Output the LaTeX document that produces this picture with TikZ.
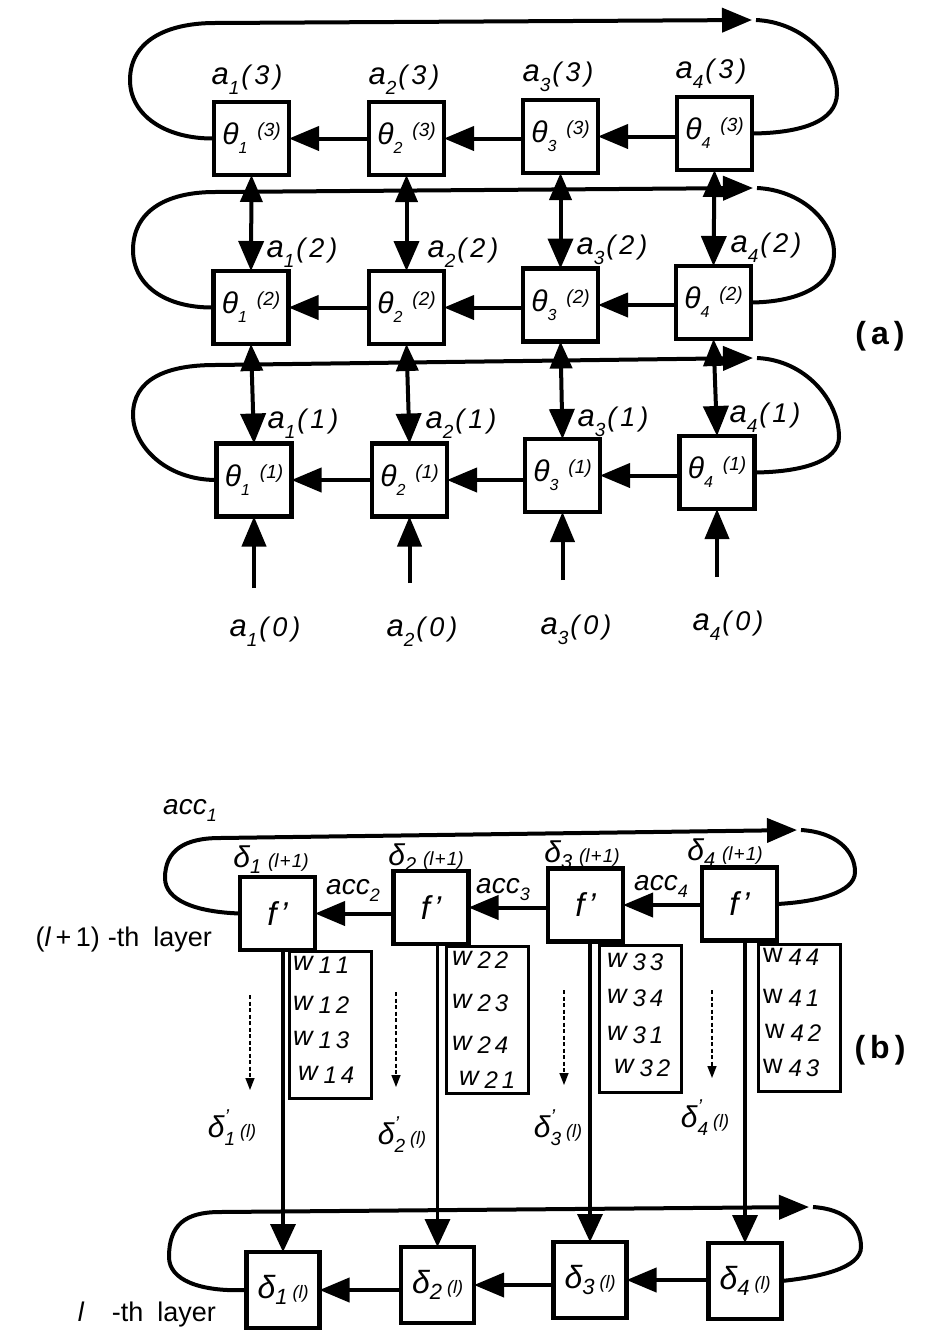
\documentclass[tikz,border=0pt]{standalone}
\usepackage{fontspec}
\setmainfont{Liberation Sans}
\usetikzlibrary{arrows.meta}
\newcommand{\fs}[1]{\fontsize{#1}{#1}\selectfont}
\newcommand{\aL}[2]{{\fs{31}\itshape a}\raisebox{-10pt}{\fs{19}\itshape #1}{\fs{27}\itshape\hspace{2pt}(\hspace{4pt}#2\hspace{4pt})}}
\newcommand{\thL}[2]{{\fs{30}\itshape θ}\raisebox{-9pt}{\fs{16}\itshape #1}\hspace{10pt}\raisebox{8pt}{\fs{19}\itshape(#2)}}
\newcommand{\dL}[2]{{\fs{32}\itshape δ}\raisebox{-6pt}{\fs{22}\itshape #1}\hspace{5pt}{\fs{18}\itshape(#2)}}
\newcommand{\dLL}[1]{{\fs{30}\itshape δ}\raisebox{-6pt}{\fs{20}\itshape #1}\hspace{7pt}{\fs{19}\itshape(l\hspace{1pt}+\hspace{1pt}1)}}
\newcommand{\dpL}[1]{{\fs{30}\itshape δ}\rlap{\raisebox{14pt}{\fs{20}\itshape '}}\raisebox{-8pt}{\fs{19}\itshape #1}\hspace{5pt}{\fs{18}\itshape(l)}}
\newcommand{\accL}[1]{{\fs{28}\itshape acc}\raisebox{-7pt}{\fs{18}\itshape #1}}
\newcommand{\wL}[2]{{\fs{27}\itshape w}\hspace{6pt}\raisebox{-3pt}{\fs{24}\itshape #1\hspace{4pt}#2}}
\newcommand{\wU}[2]{{\fs{27}w}\hspace{6pt}\raisebox{-3pt}{\fs{24}\itshape #1\hspace{4pt}#2}}
\newcommand{\fp}{{\fs{33}\itshape f\hspace{4pt}'}}
\begin{document}
\begin{tikzpicture}[x=1pt,y=-1pt,
  bx/.style={draw, line width=4.5pt, minimum width=75pt, minimum height=73pt, inner sep=0pt, outer sep=0pt},
  dbx/.style={draw, line width=4.5pt, minimum width=73pt, minimum height=76pt, inner sep=0pt, outer sep=0pt},
  wbx/.style={draw, line width=3pt, minimum width=82pt, minimum height=147pt, inner sep=0pt, outer sep=0pt},
  ln/.style={line width=4pt},
  vln/.style={line width=3.5pt},
  bigtip/.style={-{Triangle[length=30pt,width=24pt]}},
  bitip/.style={{Triangle[length=27pt,width=22pt]}-{Triangle[length=30pt,width=25pt]}},
  dtip/.style={-{Triangle[length=28pt,width=25pt]}},
  dsh/.style={line width=1.5pt, dashed, dash pattern=on 4pt off 2.5pt, -{Triangle[length=12pt,width=9pt]}},
  lbl/.style={inner sep=0pt, outer sep=0pt},
]
\useasboundingbox (0,0) rectangle (942,1336);

% ---------------- part (a) ----------------
% row 3
\node[bx] (b13) at (251.5,138.5) {\thL{1}{3}};
\node[bx] (b23) at (406.5,138.5) {\thL{2}{3}};
\node[bx] (b33) at (560.5,136.5) {\thL{3}{3}};
\node[bx] (b43) at (714.5,133.5) {\thL{4}{3}};
% row 2
\node[bx] (b12) at (251,307.5) {\thL{1}{2}};
\node[bx] (b22) at (406.5,307.5) {\thL{2}{2}};
\node[bx] (b32) at (560.5,305) {\thL{3}{2}};
\node[bx] (b42) at (713.5,302.5) {\thL{4}{2}};
% row 1
\node[bx] (b11) at (254,480) {\thL{1}{1}};
\node[bx] (b21) at (409.5,480) {\thL{2}{1}};
\node[bx] (b31) at (562.5,475.5) {\thL{3}{1}};
\node[bx] (b41) at (717,472.5) {\thL{4}{1}};

% labels
\node[lbl] (la13) at (247,80) {\aL{1}{3}};
\node[lbl] (la23) at (404,80) {\aL{2}{3}};
\node[lbl] (la33) at (558,77) {\aL{3}{3}};
\node[lbl] (la43) at (711,74) {\aL{4}{3}};
\node[lbl] (la12) at (302,253) {\aL{1}{2}};
\node[lbl] (la22) at (463,253) {\aL{2}{2}};
\node[lbl] (la32) at (612,250) {\aL{3}{2}};
\node[lbl] (la42) at (766,248) {\aL{4}{2}};
\node[lbl] (la11) at (303,424) {\aL{1}{1}};
\node[lbl] (la21) at (461,424) {\aL{2}{1}};
\node[lbl] (la31) at (613,422) {\aL{3}{1}};
\node[lbl] (la41) at (765,418) {\aL{4}{1}};
\node[lbl] (la10) at (265,632) {\aL{1}{0}};
\node[lbl] (la20) at (422,632) {\aL{2}{0}};
\node[lbl] (la30) at (576,630) {\aL{3}{0}};
\node[lbl] (la40) at (728,626) {\aL{4}{0}};
\node[lbl] (pa) at (880,336) {\fs{32}\bfseries(\hspace{5pt}a\hspace{5pt})};

% horizontal arrows
\draw[ln, bigtip] (b23.west |- b13.east) -- (b13.east);
\draw[ln, bigtip] (b33.west |- b23.east) -- (b23.east);
\draw[ln, bigtip] (b43.west |- b33.east) -- (b33.east);
\draw[ln, bigtip] (b22.west |- b12.east) -- (b12.east);
\draw[ln, bigtip] (b32.west |- b22.east) -- (b22.east);
\draw[ln, bigtip] (b42.west |- b32.east) -- (b32.east);
\draw[ln, bigtip] (b21.west |- b11.east) -- (b11.east);
\draw[ln, bigtip] (b31.west |- b21.east) -- (b21.east);
\draw[ln, bigtip] (b41.west |- b31.east) -- (b31.east);

% loops
\coordinate (t3) at (752,20); \coordinate (t3b) at (756,20);
\draw[ln, bigtip] (b13.west) .. controls (165,139) and (130,115) .. (130,80) .. controls (130,42) and (165,23) .. (215,23) -- (t3);
\draw[ln] (t3b) .. controls (800,22) and (837,55) .. (837,93) .. controls (837,122) and (800,133) .. (b43.east);
\coordinate (t2) at (753,188); \coordinate (t2b) at (757,188);
\draw[ln, bigtip] (b12.west) .. controls (165,308) and (133,285) .. (133,250) .. controls (133,212) and (165,192) .. (215,192) -- (t2);
\draw[ln] (t2b) .. controls (800,190) and (834,220) .. (834,253) .. controls (834,285) and (800,302) .. (b42.east);
\coordinate (t1) at (753,358); \coordinate (t1b) at (757,358);
\draw[ln, bigtip] (b11.west) .. controls (165,480) and (133,445) .. (133,415) .. controls (133,380) and (165,365) .. (215,365) -- (t1);
\draw[ln] (t1b) .. controls (805,360) and (839,400) .. (839,437) .. controls (839,462) and (800,472) .. (b41.east);

% vertical bidirectional arrows
\draw[ln, bitip] (b13.south) -- (b12.north);
\draw[ln, bitip] (b23.south) -- (b22.north);
\draw[ln, bitip] (b33.south) -- (b32.north);
\draw[ln, bitip] (b43.south) -- (b42.north);
\draw[ln, bitip] (b12.south) -- (b11.north);
\draw[ln, bitip] (b22.south) -- (b21.north);
\draw[ln, bitip] (b32.south) -- (b31.north);
\draw[ln, bitip] (b42.south) -- (b41.north);

% inputs
\coordinate (i1) at (254,588);
\coordinate (i2) at (409.5,583);
\coordinate (i3) at (562.5,580);
\coordinate (i4) at (717,577);
\draw[ln, bigtip] (i1) -- (b11.south);
\draw[ln, bigtip] (i2) -- (b21.south);
\draw[ln, bigtip] (i3) -- (b31.south);
\draw[ln, bigtip] (i4) -- (b41.south);

% ---------------- part (b) ----------------
\node[bx] (f1) at (277.5,913.5) {\fp};
\node[bx] (f2) at (431,907.5) {\fp};
\node[bx] (f3) at (585.5,905) {\fp};
\node[bx] (f4) at (739.5,904) {\fp};

\node[lbl] (acc1) at (190,810) {\accL{1}};
\node[lbl] (acc2) at (353,890) {\accL{2}};
\node[lbl] (acc3) at (503,890) {\accL{3}};
\node[lbl] (acc4) at (661,886) {\accL{4}};

\node[lbl] (dl1) at (271,860) {\dLL{1}};
\node[lbl] (dl2) at (426,858) {\dLL{2}};
\node[lbl] (dl3) at (582,855) {\dLL{3}};
\node[lbl] (dl4) at (725,853) {\dLL{4}};

\node[lbl, anchor=east] (lay1) at (212,940) {\fs{27}(\textit{l}\,+\,1)\hspace{8pt}-th\hspace{14pt}layer};
\node[lbl, anchor=east] (lay0) at (216,1315) {{\fs{27}\itshape l}\hspace{28pt}{\fs{27}-th\hspace{14pt}layer}};
\node[lbl] (pb) at (880,1050) {\fs{32}\bfseries(\hspace{5pt}b\hspace{5pt})};

\draw[ln, bigtip] (f2.west |- f1.east) -- (f1.east);
\draw[ln, bigtip] (f3.west |- f2.east) -- (f2.east);
\draw[ln, bigtip] (f4.west |- f3.east) -- (f3.east);

\coordinate (tb) at (797,830); \coordinate (tbb) at (801,830);
\draw[ln, bigtip] (f1.west) .. controls (195,912) and (165,900) .. (165,878) .. controls (165,850) and (185,838) .. (220,838) -- (tb);
\draw[ln] (tbb) .. controls (835,832) and (855,850) .. (855,872) .. controls (855,893) and (815,902) .. (f4.east);

% W boxes
\node[wbx] (w1) at (330.5,1025) {};
\node[wbx] (w2) at (487,1020) {};
\node[wbx] (w3) at (640.5,1019) {};
\node[wbx] (w4) at (799.5,1017.5) {};
\node[lbl, anchor=west] (w11) at (293,965) {\wL{1}{1}};
\node[lbl, anchor=west] (w12) at (293,1005) {\wL{1}{2}};
\node[lbl, anchor=west] (w13) at (293,1040) {\wL{1}{3}};
\node[lbl, anchor=west] (w14) at (298,1075) {\wL{1}{4}};
\node[lbl, anchor=west] (w22) at (452,960) {\wL{2}{2}};
\node[lbl, anchor=west] (w23) at (452,1003) {\wL{2}{3}};
\node[lbl, anchor=west] (w24) at (452,1045) {\wL{2}{4}};
\node[lbl, anchor=west] (w21) at (459,1080) {\wL{2}{1}};
\node[lbl, anchor=west] (w33) at (607,962) {\wL{3}{3}};
\node[lbl, anchor=west] (w34) at (607,998) {\wL{3}{4}};
\node[lbl, anchor=west] (w31) at (607,1035) {\wL{3}{1}};
\node[lbl, anchor=west] (w32) at (614,1068) {\wL{3}{2}};
\node[lbl, anchor=west] (w44) at (763,957) {\wU{4}{4}};
\node[lbl, anchor=west] (w41) at (763,998) {\wU{4}{1}};
\node[lbl, anchor=west] (w42) at (765,1033) {\wU{4}{2}};
\node[lbl, anchor=west] (w43) at (763,1068) {\wU{4}{3}};

% dashed arrows
\coordinate (ds1) at (250,995); \coordinate (de1) at (250,1090);
\coordinate (ds2) at (396,992); \coordinate (de2) at (396,1087);
\coordinate (ds3) at (564,990); \coordinate (de3) at (564,1085);
\coordinate (ds4) at (712,990); \coordinate (de4) at (712,1078);
\draw[dsh] (ds1) -- (de1);
\draw[dsh] (ds2) -- (de2);
\draw[dsh] (ds3) -- (de3);
\draw[dsh] (ds4) -- (de4);

% delta' labels
\node[lbl] (dp1) at (232,1128) {\dpL{1}};
\node[lbl] (dp2) at (402,1135) {\dpL{2}};
\node[lbl] (dp3) at (558,1128) {\dpL{3}};
\node[lbl] (dp4) at (705,1118) {\dpL{4}};

% l-th layer boxes
\node[dbx] (d1) at (283,1290) {\dL{1}{l}};
\node[dbx] (d2) at (437.5,1285) {\dL{2}{l}};
\node[dbx] (d3) at (590,1280) {\dL{3}{l}};
\node[dbx] (d4) at (745,1281) {\dL{4}{l}};

\draw[vln, dtip] (f1.south -| d1.north) -- (d1.north);
\draw[vln, dtip] (f2.south -| d2.north) -- (d2.north);
\draw[vln, dtip] (f3.south -| d3.north) -- (d3.north);
\draw[vln, dtip] (f4.south -| d4.north) -- (d4.north);

\draw[ln, bigtip] (d2.west |- d1.east) -- (d1.east);
\draw[ln, bigtip] (d3.west |- d2.east) -- (d2.east);
\draw[ln, bigtip] (d4.west |- d3.east) -- (d3.east);

\coordinate (tc) at (809,1207); \coordinate (tcc) at (813,1207);
\draw[ln, bigtip] (d1.west) .. controls (200,1292) and (169,1280) .. (169,1257) .. controls (169,1225) and (185,1212) .. (220,1212) -- (tc);
\draw[ln] (tcc) .. controls (845,1209) and (861,1225) .. (861,1247) .. controls (861,1268) and (820,1277) .. (d4.east);
\end{tikzpicture}
\end{document}
